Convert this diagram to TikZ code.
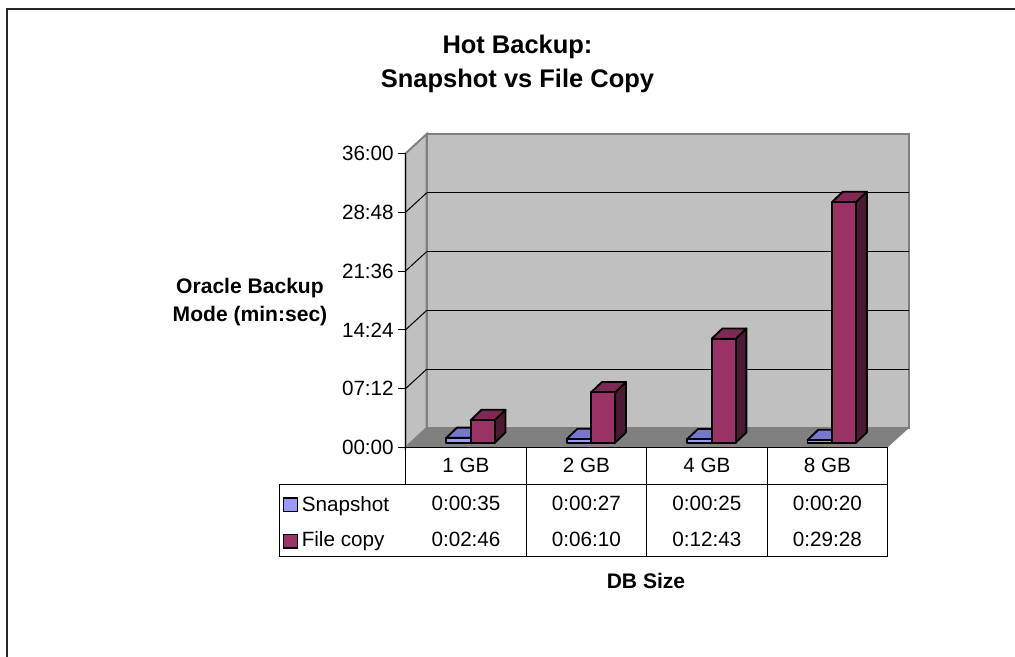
\documentclass[tikz,border=0pt]{standalone}
\usepackage{fontspec}
\setmainfont{Liberation Sans}
\definecolor{wallc}{HTML}{C0C0C0}
\definecolor{floorc}{HTML}{808080}
\definecolor{edgec}{HTML}{808080}
\definecolor{snapfront}{HTML}{9999FF}
\definecolor{snaptop}{HTML}{7777CC}
\definecolor{snapside}{HTML}{4D4D80}
\definecolor{copyfront}{HTML}{993366}
\definecolor{copytop}{HTML}{7F2A55}
\definecolor{copyside}{HTML}{4D1A35}

% a 3-D column: left x, width, height, front, top and side colours
\newcommand\prismcol[6]{%
  \filldraw[barline,fill=#6] ({#1+#2},442.7) -- ++(10.8,-10.3) -- ++(0,{-#3}) -- ++(-10.8,10.3) -- cycle;
  \filldraw[barline,fill=#5] (#1,{442.7-#3}) -- ({#1+#2},{442.7-#3}) -- ++(10.8,-10.3) -- ++({-#2},0) -- cycle;
  \filldraw[barline,fill=#4] (#1,442.7) rectangle ({#1+#2},{442.7-#3});
}

\begin{document}
\begin{tikzpicture}[x=0.75pt,y=-0.75pt,
  barline/.style={draw=black,line width=1.4pt,line join=round},
  rimline/.style={draw=edgec,line width=1.5pt},
  thin/.style={draw=black,line width=0.75pt},
  lbl/.style={font=\fontsize{15.5}{18}\selectfont,inner sep=0pt},
  blbl/.style={font=\fontsize{15.8}{20}\selectfont\bfseries,inner sep=0pt},
  ttl/.style={font=\fontsize{19.1}{22}\selectfont\bfseries,inner sep=0pt}]
\useasboundingbox (0,0) rectangle (1015,657);
\fill[white] (0,0) rectangle (1015,657);

% outer frame
\draw[line width=1.3pt,draw=black!85] (1015,9) -- (7,9) -- (7,657);

% title
\node[ttl,anchor=base] (t1) at (517.5,53.5) {Hot Backup:};
\node[ttl,anchor=base] (t2) at (517.5,87.7) {Snapshot vs File Copy};

% walls
\filldraw[fill=wallc,rimline] (405.7,447.4) -- (405.7,153.3) -- (426.7,134) -- (426.7,428) -- cycle;
\filldraw[fill=wallc,rimline] (426.7,428) rectangle (909,134);
\foreach \k in {1,...,4}{
  \draw[thin] (426.7,{134+58.8*\k}) -- (909,{134+58.8*\k});
  \draw[thin] (405.7,{153.3+58.8*\k}) -- (426.7,{134+58.8*\k});
}
% floor
\fill[floorc] (405.7,447.4) -- (426.7,428) -- (909,428) -- (887.5,447.4) -- cycle;

% value axis
\draw[thin] (405.7,153.3) -- (405.7,484.3);
\foreach \k/\t in {0/00:00,1/07:12,2/14:24,3/21:36,4/28:48,5/36:00}{
  \draw[thin] (398,{447.4-58.8*\k}) -- (405.7,{447.4-58.8*\k});
  \node[lbl,anchor=base east] (v\k) at (394,{454.6-58.8*\k}) {\t};
}
\node[blbl,anchor=base] (ya1) at (250,293.3) {Oracle Backup};
\node[blbl,anchor=base] (ya2) at (250,321) {Mode (min:sec)};

% columns
\foreach \i/\hs/\hc in {0/4.8/22.6,1/3.7/50.4,2/3.4/103.9,3/2.7/240.7}{
  \pgfmathsetmacro\cx{405.7+120.45*\i}
  \prismcol{\cx+40.5}{24.5}{\hs}{snapfront}{snaptop}{snapside}
  \prismcol{\cx+65}{24}{\hc}{copyfront}{copytop}{copyside}
}

% data table
\draw[thin] (405.7,447.4) -- (887.5,447.4) -- (887.5,556) -- (279,556) -- (279,484.3) -- (887.5,484.3);
\foreach \x in {526.1,646.6,767.0}{\draw[thin] (\x,447.4) -- (\x,556);}
\foreach \i/\c/\s/\f in {0/1 GB/0:00:35/0:02:46,1/2 GB/0:00:27/0:06:10,2/4 GB/0:00:25/0:12:43,3/8 GB/0:00:20/0:29:28}{
  \pgfmathsetmacro\mx{466+120.45*\i}
  \node[lbl,anchor=base] (c\i) at (\mx,472.7) {\c};
  \node[lbl,anchor=base] (s\i) at (\mx,510.9) {\s};
  \node[lbl,anchor=base] (f\i) at (\mx,546.6) {\f};
}
\filldraw[fill=snapfront,draw=black,line width=1.2pt] (283.5,498) rectangle (297.5,511.5);
\filldraw[fill=copyfront,draw=black,line width=1.2pt] (283.5,534.5) rectangle (297.5,548);
\node[lbl,anchor=base west] (ls) at (301.5,511) {Snapshot};
\node[lbl,anchor=base west] (lf) at (301.5,546.8) {File copy};
\node[blbl,anchor=base] (xa) at (646,588) {DB Size};
\end{tikzpicture}
\end{document}
